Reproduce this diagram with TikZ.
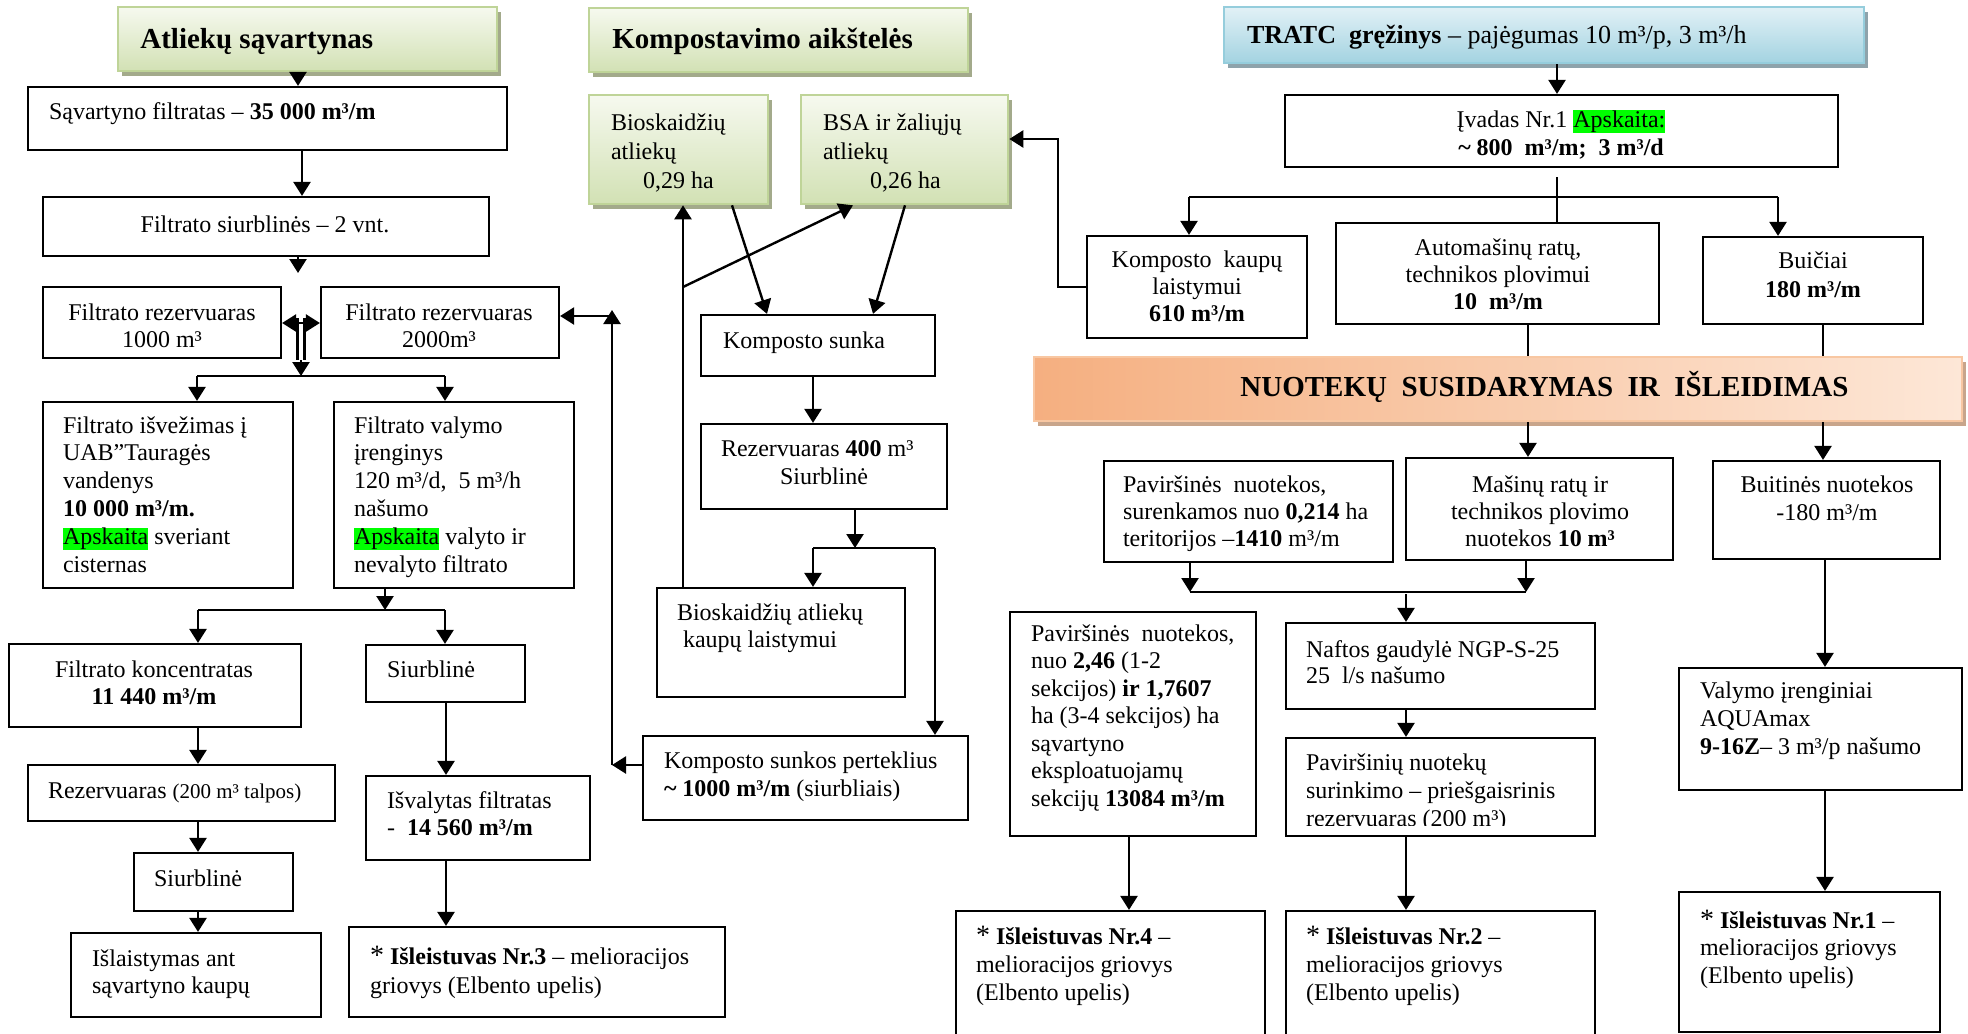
\documentclass[tikz,border=0pt]{standalone}
\usepackage{fontspec}
\setmainfont{Liberation Serif}
\usetikzlibrary{arrows.meta,fit}
\definecolor{hlgreen}{HTML}{00FF00}
\definecolor{gTop}{HTML}{F6F9EF}
\definecolor{gBot}{HTML}{D2E1B4}
\definecolor{gBrd}{HTML}{BFD498}
\definecolor{gSh}{HTML}{A3AA8B}
\definecolor{bTop}{HTML}{E2F1F6}
\definecolor{bBot}{HTML}{A3D3E1}
\definecolor{bBrd}{HTML}{95CDDC}
\definecolor{bSh}{HTML}{8EA3AB}
\definecolor{oL}{HTML}{F5AF80}
\definecolor{oR}{HTML}{FDE7D7}
\definecolor{oBrd}{HTML}{F8C7A2}
\definecolor{oSh}{HTML}{C8A58B}
\newcommand\hlg[1]{{\setlength{\fboxsep}{0pt}\colorbox{hlgreen}{\rule[-0.24em]{0pt}{0.9em}#1}}}
\newcommand\bigast{{\fontsize{14}{14}\selectfont*}}
\tikzset{
  box/.style={draw, line width=1.1pt, inner sep=0pt, fill=white},
  gbox/.style={draw=gBrd, line width=1.3pt, inner sep=0pt, top color=gTop, bottom color=gBot},
  bbox/.style={draw=bBrd, line width=1.3pt, inner sep=0pt, top color=bTop, bottom color=bBot},
  obox/.style={draw=oBrd, line width=1.3pt, inner sep=0pt, left color=oL, right color=oR},
  ln/.style={line width=1.2pt},
  arr/.style={ln, -{Triangle[width=8.5pt,length=7pt]}},
  darr/.style={ln, {Triangle[width=8.5pt,length=7pt]}-{Triangle[width=8.5pt,length=7pt]}},
  txt/.style={inner sep=0pt, outer sep=0pt, align=left, font=\fontsize{12}{13.7}\selectfont},
  ctxt/.style={txt, align=center, anchor=base},
  ltxt/.style={txt, anchor=base west},
  hdr/.style={inner sep=0pt, font=\fontsize{14.5}{16}\selectfont\bfseries, anchor=base west},
}
\newcommand\bx[6][box]{\node[#1, fit={(#3,#4) (#5,#6)}] (#2) {};}
\newcommand\sbx[7]{\fill[#7] (#3+4,#4+5) rectangle (#5+4,#6+5); \node[#1, fit={(#3,#4) (#5,#6)}] (#2) {};}
\begin{document}
% note: for multi-line text nodes the given y is the baseline of the LAST line
\begin{tikzpicture}[x=0.5pt,y=-0.5pt]
\fill[white] (0,0) rectangle (1968,1033);
\useasboundingbox (0,0) rectangle (1968,1033);
% shaded headers / boxes
\sbx{gbox}{hA}{118}{7}{497}{71}{gSh}
\sbx{gbox}{hK}{589}{8}{968}{72}{gSh}
\sbx{gbox}{gBio}{589}{95}{768}{204}{gSh}
\sbx{gbox}{gBsa}{801}{95}{1008}{204}{gSh}
\sbx{bbox}{hT}{1224}{7}{1864}{63}{bSh}
\sbx{obox}{hN}{1034}{357}{1962}{421}{oSh}
% plain boxes
\bx{sav}{28}{87}{507}{150}
\bx{fsiur}{43}{197}{489}{256}
\bx{rA}{43}{287}{281}{358}
\bx{rB}{321}{287}{559}{358}
\bx{isvez}{43}{402}{293}{588}
\bx{valym}{334}{402}{574}{588}
\bx{konc}{9}{644}{301}{727}
\bx{siurA}{366}{645}{525}{702}
\bx{rez200}{28}{765}{335}{821}
\bx{isval}{366}{776}{590}{860}
\bx{siurB}{134}{853}{293}{911}
\bx{islaist}{71}{933}{321}{1017}
\bx{islC}{349}{927}{725}{1017}
\bx{ksunka}{701}{315}{935}{376}
\bx{rez400}{701}{424}{947}{509}
\bx{biokaup}{657}{588}{905}{697}
\bx{pertek}{643}{736}{968}{820}
\bx{ivadas}{1285}{95}{1838}{167}
\bx{kkaup}{1087}{236}{1307}{338}
\bx{auto}{1336}{223}{1659}{324}
\bx{buic}{1703}{237}{1923}{324}
\bx{pavA}{1104}{461}{1393}{562}
\bx{masin}{1406}{458}{1673}{560}
\bx{buit}{1713}{461}{1940}{559}
\bx{pavB}{1010}{612}{1256}{836}
\bx{nafta}{1286}{623}{1595}{709}
\bx{pavsur}{1286}{738}{1595}{836}
\bx{valB}{1679}{668}{1962}{790}
\bx{islD}{956}{911}{1265}{1045}
\bx{islB}{1286}{911}{1595}{1045}
\bx{islA}{1679}{892}{1940}{1032}
% ---------- connectors: left ----------
\draw[arr] (298,0 |- hA.south) -- (298,0 |- sav.north);
\draw[arr] (302,0 |- sav.south) -- (302,0 |- fsiur.north);
\coordinate (j1) at (298,273);
\draw[arr] (298,0 |- fsiur.south) -- (j1);
\draw[darr] (rA.east |- 0,323) -- (rB.west |- 0,323);
\coordinate (j2a) at (297.5,318); \coordinate (j2b) at (304.5,318);
\coordinate (j2e) at (301,360);
\coordinate (s1L) at (197,376); \coordinate (s1R) at (445,376); \coordinate (s1) at (301,376);
\draw[ln] (j2a) -- (j2a |- j2e);
\draw[ln] (j2b) -- (j2b |- j2e);
\draw[arr] (j2e) -- (s1);
\draw[ln] (s1L) -- (s1R);
\draw[arr] (s1L) -- (s1L |- isvez.north);
\draw[arr] (s1R) -- (s1R |- valym.north);
\coordinate (s2) at (385,610); \coordinate (s2L) at (198,610); \coordinate (s2R) at (445,610);
\draw[arr] (385,0 |- valym.south) -- (s2);
\draw[ln] (s2L) -- (s2R);
\draw[arr] (s2L) -- (s2L |- konc.north);
\draw[arr] (s2R) -- (s2R |- siurA.north);
\draw[arr] (198,0 |- konc.south) -- (198,0 |- rez200.north);
\draw[arr] (198,0 |- rez200.south) -- (198,0 |- siurB.north);
\draw[arr] (198,0 |- siurB.south) -- (198,0 |- islaist.north);
\draw[arr] (446,0 |- siurA.south) -- (446,0 |- isval.north);
\draw[arr] (446,0 |- isval.south) -- (446,0 |- islC.north);
% ---------- connectors: middle ----------
\coordinate (vL) at (612,765); \coordinate (vT) at (612,310); \coordinate (vH) at (612,316);
\draw[arr] (pertek.west |- vL) -- (vL);
\draw[arr] (vL) -- (vT);
\draw[arr] (vH) -- (rB.east |- vH);
\coordinate (jb) at (683,287);
\draw[arr] (683,0 |- biokaup.north) -- (683,0 |- gBio.south);
\draw[arr] (jb) -- (853,0 |- gBsa.south);
\draw[arr] (732,0 |- gBio.south) -- (767,0 |- ksunka.north);
\draw[arr] (905,0 |- gBsa.south) -- (873,0 |- ksunka.north);
\draw[arr] (813,0 |- ksunka.south) -- (813,0 |- rez400.north);
\coordinate (s3) at (855,548); \coordinate (s3L) at (813,548); \coordinate (s3R) at (935,548);
\draw[arr] (855,0 |- rez400.south) -- (s3);
\draw[ln] (s3L) -- (s3R);
\draw[arr] (s3L) -- (s3L |- biokaup.north);
\draw[arr] (s3R) -- (s3R |- pertek.north);
% ---------- connectors: right ----------
\draw[arr] (1557,0 |- hT.south) -- (1557,0 |- ivadas.north);
\coordinate (ivb) at (1557,177);
\coordinate (s4L) at (1189,197); \coordinate (s4R) at (1778,197);
\draw[ln] (ivb) -- (ivb |- auto.north);
\draw[ln] (s4L) -- (s4R);
\draw[arr] (s4L) -- (s4L |- kkaup.north);
\draw[arr] (s4R) -- (s4R |- buic.north);
\draw[arr] (kkaup.west) -- (1058,0 |- kkaup.west) -- (1058,139) -- (gBsa.east |- 0,139);
\draw[ln] (1528,0 |- auto.south) -- (1528,0 |- hN.north);
\draw[ln] (1823,0 |- buic.south) -- (1823,0 |- hN.north);
\draw[arr] (1528,0 |- hN.south) -- (1528,0 |- masin.north);
\draw[arr] (1823,0 |- hN.south) -- (1823,0 |- buit.north);
\coordinate (s5L) at (1190,592); \coordinate (s5R) at (1526,592); \coordinate (s5) at (1406,594);
\draw[arr] (1190,0 |- pavA.south) -- (s5L);
\draw[arr] (1526,0 |- masin.south) -- (s5R);
\draw[ln] (s5L) -- (s5R);
\draw[arr] (s5) -- (s5 |- nafta.north);
\draw[arr] (1406,0 |- nafta.south) -- (1406,0 |- pavsur.north);
\draw[arr] (1129,0 |- pavB.south) -- (1129,0 |- islD.north);
\draw[arr] (1406,0 |- pavsur.south) -- (1406,0 |- islB.north);
\draw[arr] (1825,0 |- buit.south) -- (1825,0 |- valB.north);
\draw[arr] (1825,0 |- valB.south) -- (1825,0 |- islA.north);
% ---------- texts: left ----------
\node[hdr] (tA) at (140,48) {Atliekų sąvartynas};
\node[ltxt] (tSav) at (49,119) {Sąvartyno filtratas – \textbf{35 000 m³/m}};
\node[ctxt] (tFs) at (265,232) {Filtrato siurblinės – 2 vnt.};
\node[ctxt] (tRA) at (162,347.4) {Filtrato rezervuaras\\1000 m³};
\node[ctxt] (tRB) at (439,347.4) {Filtrato rezervuaras\\2000m³};
\node[ltxt, font=\fontsize{12}{13.9}\selectfont] (tIsv) at (63,572) {Filtrato išvežimas į\\UAB”Tauragės\\vandenys\\\textbf{10 000 m³/m.}\\\hlg{Apskaita} sveriant\\cisternas};
\node[ltxt, font=\fontsize{12}{13.9}\selectfont] (tVal) at (354,572) {Filtrato valymo\\įrenginys\\120 m³/d,\ \ 5 m³/h\\našumo\\\hlg{Apskaita} valyto ir\\nevalyto filtrato};
\node[ctxt] (tKonc) at (154,704.4) {Filtrato koncentratas\\\textbf{11 440 m³/m}};
\node[ltxt] (tSiA) at (387,677) {Siurblinė};
\node[ltxt] (tR200) at (48,798) {Rezervuaras {\fontsize{10.5}{12}\selectfont(200 m³ talpos)}};
\node[ltxt] (tIsval) at (387,835.4) {Išvalytas filtratas\\-\ \ \textbf{14 560 m³/m}};
\node[ltxt] (tSiB) at (154,886) {Siurblinė};
\node[ltxt] (tIsl) at (92,993.4) {Išlaistymas ant\\sąvartyno kaupų};
\node[ltxt, font=\fontsize{12}{14.5}\selectfont] (tIslC) at (370,993) {\bigast{} \textbf{Išleistuvas Nr.3} – melioracijos\\griovys (Elbento upelis)};
% ---------- texts: middle ----------
\node[hdr] (tK) at (612,48) {Kompostavimo aikštelės};
\node[ltxt, font=\fontsize{12}{14.5}\selectfont] (tBio) at (611,188) {Bioskaidžių\\atliekų\\\hspace*{16pt}0,29 ha};
\node[ltxt, font=\fontsize{12}{14.5}\selectfont] (tBsa) at (823,188) {BSA ir žaliųjų\\atliekų\\\hspace*{23.5pt}0,26 ha};
\node[ltxt] (tKs) at (723,348) {Komposto sunka};
\node[ltxt, font=\fontsize{12}{14}\selectfont] (tR400) at (721,484) {Rezervuaras \textbf{400} m³\\\hspace*{29.5pt}Siurblinė};
\node[ltxt] (tBk) at (677,647.4) {Bioskaidžių atliekų\\\hspace*{3pt}kaupų laistymui};
\node[ltxt, font=\fontsize{12}{14}\selectfont] (tPer) at (664,796) {Komposto sunkos perteklius\\\textbf{\textasciitilde\ 1000 m³/m} (siurbliais)};
% ---------- texts: right ----------
\node[ltxt, font=\fontsize{13}{15}\selectfont] (tT) at (1247,43) {\textbf{TRATC\ \ gręžinys} – pajėgumas 10 m³/p, 3 m³/h};
\node[ctxt, font=\fontsize{12}{14}\selectfont] (tIv) at (1561,155) {Įvadas Nr.1 \hlg{Apskaita:}\\\textbf{\textasciitilde\ 800\ \ m³/m;\ \ 3 m³/d}};
\node[ctxt] (tKk) at (1197,321.8) {Komposto\ \ kaupų\\laistymui\\\textbf{610 m³/m}};
\node[ctxt] (tAu) at (1498,309.8) {Automašinų ratų,\\technikos plovimui\\\textbf{10\ \ m³/m}};
\node[ctxt, font=\fontsize{12}{14.5}\selectfont] (tBu) at (1813,297) {Buičiai\\\textbf{180 m³/m}};
\node[hdr] (tN) at (1240,396) {NUOTEKŲ\ \ SUSIDARYMAS\ \ IR\ \ IŠLEIDIMAS};
\node[ltxt] (tPA) at (1123,546.8) {Paviršinės\ \ nuotekos,\\surenkamos nuo \textbf{0,214} ha\\teritorijos –\textbf{1410} m³/m};
\node[ctxt] (tMa) at (1540,546.8) {Mašinų ratų ir\\technikos plovimo\\nuotekos \textbf{10 m³}};
\node[ctxt, font=\fontsize{12}{14}\selectfont] (tBt) at (1827,520) {Buitinės nuotekos\\-180 m³/m};
\node[ltxt, font=\fontsize{12}{13.75}\selectfont] (tPB) at (1031,806) {Paviršinės\ \ nuotekos,\\nuo \textbf{2,46} (1-2\\sekcijos) \textbf{ir 1,7607}\\ha (3-4 sekcijos) ha\\sąvartyno\\eksploatuojamų\\sekcijų \textbf{13084 m³/m}};
\node[ltxt, font=\fontsize{12}{13}\selectfont] (tNf) at (1306,683) {Naftos gaudylė NGP-S-25\\25\ \ l/s našumo};
\begin{scope}
\clip (1286,738) rectangle (1595,825);
\node[ltxt, font=\fontsize{12}{14}\selectfont] (tPs) at (1306,826) {Paviršinių nuotekų\\surinkimo – priešgaisrinis\\rezervuaras (200 m³)};
\end{scope}
\node[ltxt, font=\fontsize{12}{14.2}\selectfont] (tID) at (976,1000.8) {\bigast{} \textbf{Išleistuvas Nr.4} –\\melioracijos griovys\\(Elbento upelis)};
\node[ltxt, font=\fontsize{12}{14.2}\selectfont] (tIB) at (1306,1000.8) {\bigast{} \textbf{Išleistuvas Nr.2} –\\melioracijos griovys\\(Elbento upelis)};
\node[ltxt, font=\fontsize{12}{14.2}\selectfont] (tVB) at (1700,754.8) {Valymo įrenginiai\\AQUAmax\\\textbf{9-16Z}– 3 m³/p našumo};
\node[ltxt, font=\fontsize{12}{13.9}\selectfont] (tIA) at (1700,983.6) {\bigast{} \textbf{Išleistuvas Nr.1} –\\melioracijos griovys\\(Elbento upelis)};
\end{tikzpicture}
\end{document}
